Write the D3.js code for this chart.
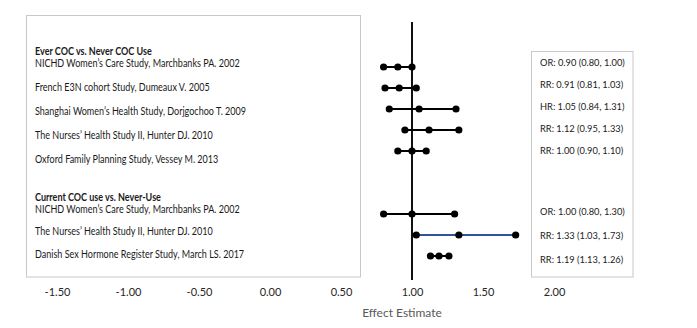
<!DOCTYPE html>
<html>
<head>
<meta charset="utf-8">
<script src="https://cdn.jsdelivr.net/npm/d3@7/dist/d3.min.js"></script>
<style>
  html, body { margin: 0; padding: 0; background: #fff; }
  svg { display: block; font-family: Lato, "Open Sans", sans-serif; }
</style>
</head>
<body>
<svg id="chart" width="697" height="328"></svg>
<script>
// ---- data ----
const groups = ["Ever COC vs. Never COC Use", "Current COC use vs. Never-Use"];
const studies = [
  "NICHD Women\u2019s Care Study, Marchbanks PA. 2002",
  "French E3N cohort Study, Dumeaux V. 2005",
  "Shanghai Women\u2019s Health Study, Dorjgochoo T. 2009",
  "The Nurses\u2019 Health Study II, Hunter DJ. 2010",
  "Oxford Family Planning Study, Vessey M. 2013",
  "NICHD Women\u2019s Care Study, Marchbanks PA. 2002",
  "The Nurses\u2019 Health Study II, Hunter DJ. 2010",
  "Danish Sex Hormone Register Study, March LS. 2017"
];
const studyGroup = [0, 0, 0, 0, 0, 1, 1, 1];
const measure = ["OR", "RR", "HR", "RR", "RR", "OR", "RR", "RR"];
const estimate = [0.90, 0.91, 1.05, 1.12, 1.00, 1.00, 1.33, 1.19];
const lower = [0.80, 0.81, 0.84, 0.95, 0.90, 0.80, 1.03, 1.13];
const upper = [1.00, 1.03, 1.31, 1.33, 1.10, 1.30, 1.73, 1.26];
const tickValues = [-1.5, -1.0, -0.5, 0.0, 0.5, 1.0, 1.5, 2.0];
const xTitle = "Effect Estimate";

// ---- layout ----
const svg = d3.select("#chart");
const x = d3.scaleLinear().domain([-1.5, 2.0]).range([57, 554]);

// row slots: groups separated by a gap of two empty slots
const slots = studies.map((d, i) => i + studyGroup[i] * 2);
const yMark = d3.scaleLinear().domain([0, 9]).range([67, 256]);

// boxes
svg.append("rect").attr("x", 26.5).attr("y", 15.5).attr("width", 334).attr("height", 261.5)
  .attr("fill", "none").attr("stroke", "#c8c8c8").attr("stroke-width", 1);
svg.append("rect").attr("x", 531.5).attr("y", 51.5).attr("width", 101.5).attr("height", 225.5)
  .attr("fill", "none").attr("stroke", "#c8c8c8").attr("stroke-width", 1);

// left labels (horizontally condensed to mimic Calibri)
const lbl = svg.append("g").attr("transform", "translate(35,0) scale(0.86,1)")
  .attr("font-size", 10.5).attr("fill", "#1a1a1a");
const headerY = [51, 197];
const rowTextY = [[63.5, 87, 111.5, 135.5, 159], [209, 231.5, 254]];
groups.forEach((g, gi) => {
  lbl.append("text").attr("x", 0).attr("y", headerY[gi]).attr("dy", "0.35em")
    .attr("font-weight", "bold").text(g);
});
const withinIdx = studies.map((d, i) => studyGroup.slice(0, i).filter(v => v === studyGroup[i]).length);
lbl.selectAll("text.study").data(studies).join("text").attr("class", "study")
  .attr("x", 0)
  .attr("y", (d, i) => rowTextY[studyGroup[i]][withinIdx[i]])
  .attr("dy", "0.35em").text(d => d);

// reference line at 1.0
svg.append("line").attr("x1", x(1)).attr("x2", x(1)).attr("y1", 22).attr("y2", 280)
  .attr("stroke", "#111").attr("stroke-width", 2);

// CI lines and points
const marks = svg.append("g");
studies.forEach((s, i) => {
  const y = yMark(slots[i]);
  const col = i === 6 ? "#2f5597" : "#000";
  marks.append("line").attr("x1", x(lower[i])).attr("x2", x(upper[i]))
    .attr("y1", y).attr("y2", y).attr("stroke", col).attr("stroke-width", 2);
  [lower[i], estimate[i], upper[i]].forEach(v => {
    marks.append("circle").attr("cx", x(v)).attr("cy", y).attr("r", 3.6).attr("fill", "#000");
  });
});

// right labels
const fmt = d3.format(".2f");
const rightY = d3.scaleLinear().domain([0, 9]).range([62.5, 260]);
const rightSlots = [0, 1, 2, 3, 4, 6.8, 7.9, 9];
svg.append("g").attr("transform", "translate(540,0) scale(0.93,1)")
  .attr("font-size", 10).attr("fill", "#1a1a1a")
  .selectAll("text").data(studies).join("text")
  .attr("x", 0)
  .attr("y", (d, i) => rightY(rightSlots[i]))
  .attr("dy", "0.35em")
  .text((d, i) => `${measure[i]}: ${fmt(estimate[i])} (${fmt(lower[i])}, ${fmt(upper[i])})`);

// x axis labels
const axis = svg.append("g").attr("transform", "translate(0,285)")
  .call(d3.axisBottom(x).tickValues(tickValues)
    .tickFormat(v => fmt(v).replace("\u2212", "-")).tickSize(0));
axis.select(".domain").remove();
axis.selectAll("text").attr("font-family", "Lato, sans-serif").attr("font-size", 11).attr("fill", "#262626");

svg.append("text").attr("x", 402).attr("y", 313).attr("dy", "0.35em")
  .attr("text-anchor", "middle").attr("font-size", 12).attr("fill", "#595959").text(xTitle);
</script>
</body>
</html>
